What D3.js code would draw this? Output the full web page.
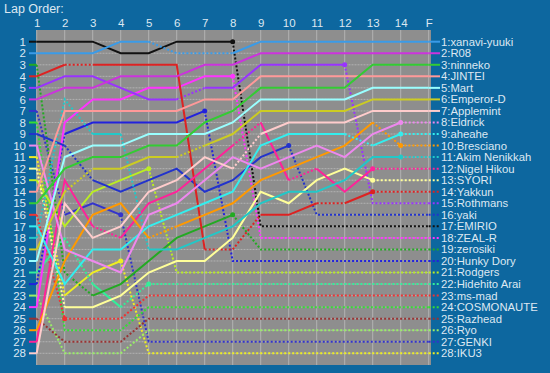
<!DOCTYPE html>
<html><head><meta charset="utf-8">
<script src="https://cdn.jsdelivr.net/npm/d3@7"></script>
<style>body{margin:0;background:#0d679f;}svg{display:block;font-family:"Liberation Sans",Arial,sans-serif;}</style>
</head><body>
<svg id="c" width="550" height="373"></svg>
<script>
const cols = ["1","2","3","4","5","6","7","8","9","10","11","12","13","14","F"];
const rowTicks = d3.range(1, 29);
const names = ["xanavi-yuuki","R08","ninneko","JINTEI","Mart","Emperor-D","Applemint","Eldrick","aheahe","Bresciano","Akim Nenikkah","Nigel Hikou","SYORI","Yakkun","Rothmans","yaki","EMIRIO","ZEAL-R","zerosiki","Hunky Dory","Rodgers","Hidehito Arai","ms-mad","COSMONAUTE","Razhead","Ryo","GENKI","IKU3"];
const colors = ["#3a9be8","#cc33dd","#33cc33","#ff9999","#99ffff","#cccc22","#ffcccc","#ee88ee","#33eeee","#ff9900","#22c8c8","#ff2299","#ffff99","#dd2222","#9933ff","#2233cc","#111111","#ff33ff","#22aa22","#2222dd","#bbee22","#33ee99","#ee3333","#33dd33","#993333","#99ee66","#3333cc","#eeee22"];
const positions = [
 [2,2,2,1,1,2,2,2,1,1,1,1,1,1,1],
 [6,5,5,4,4,4,3,3,2,2,2,2,2,2,2],
 [15,12,11,11,10,10,8,7,5,5,5,5,3,3,3],
 [14,7,7,7,7,7,6,6,4,4,4,4,4,4,4],
 [20,11,10,10,9,9,9,8,6,6,6,6,5,5,5],
 [19,14,12,12,11,11,10,9,7,7,7,7,6,6,6],
 [28,15,18,17,14,13,11,12,9,8,8,8,7,7,7],
 [10,19,20,21,16,15,13,11,12,11,10,11,9,8,8],
 [17,22,19,19,17,16,15,14,10,9,9,9,10,9,9],
 [26,20,16,15,18,17,16,15,13,12,11,10,8,10,10],
 [18,6,9,9,19,19,18,17,15,14,14,13,11,11,11],
 [27,13,17,18,15,14,12,10,8,13,12,14,12,12,12],
 [12,24,24,23,21,20,20,18,14,15,13,12,13,13,13],
 [4,3,3,3,3,3,19,19,16,16,15,15,14,14,14],
 [5,4,4,5,6,6,5,5,3,3,3,3,15,15,15],
 [9,10,13,14,13,12,14,13,11,10,16,16,16,16,16],
 [1,1,1,2,2,1,1,1,17,17,17,17,17,17,17],
 [24,8,6,6,5,5,4,4,18,18,18,18,18,18,18],
 [3,21,23,22,20,18,17,16,19,19,19,19,19,19,19],
 [22,9,8,8,8,8,7,20,20,20,20,20,20,20,20],
 [13,17,14,13,12,21,21,21,21,21,21,21,21,21,21],
 [21,18,22,24,22,22,22,22,22,22,22,22,22,22,22],
 [16,25,25,25,23,23,23,23,23,23,23,23,23,23,23],
 [8,26,26,26,24,24,24,24,24,24,24,24,24,24,24],
 [25,27,27,27,25,25,25,25,25,25,25,25,25,25,25],
 [23,28,28,28,26,26,26,26,26,26,26,26,26,26,26],
 [7,16,15,16,27,27,27,27,27,27,27,27,27,27,27],
 [11,23,21,20,28,28,28,28,28,28,28,28,28,28,28]
];
const styles = [
 "ssssdddsssssss","ssssssssssssss","ssssssssssssss","ssssssssssssss","ssssssssssssss",
 "sdsssdssssssss","sssssssdssssss","sssssssssssssd","sssssssssssdsd","ssssdsssssssdd",
 "ddsdsssssssssd","ssdssssdsdssdd","dsssssssssssdd","sdssssddssdsdd","sssssdsssssddd",
 "sdsssssssddddd","sssssssddddddd","sssssssddddddd","ddsssssddddddd","dsssssdddddddd",
 "ssssdddddddddd","sdsddddddddddd","dddddddddddddd","dddddddddddddd","dddddddddddddd",
 "dddddddddddddd","dssddddddddddd","dssddddddddddd"
];
const markers = [-1,-1,-1,-1,-1,-1,-1,13,13,13,13,12,12,12,11,9,7,7,7,6,4,4,1,-1,-1,-1,3,3];

const svg = d3.select("#c");
const W = 550, H = 373;
svg.append("rect").attr("width", W).attr("height", H).attr("fill", "#0d679f");

const x = d3.scalePoint().domain(cols).range([36.7, 428.7]);
const y = d3.scaleLinear().domain([1, 28]).range([41.7, 353.3]);
const plot = {l: 36.5, r: 431, t: 30, b: 365};
const txt = "#dde8f2";
const ff = "Liberation Sans, Arial, sans-serif";

svg.append("rect").attr("x", plot.l).attr("y", plot.t)
  .attr("width", plot.r - plot.l).attr("height", plot.b - plot.t).attr("fill", "#8e8e8e");

// grid
svg.append("g").selectAll("line").data(cols).join("line")
  .attr("x1", d => x(d)).attr("x2", d => x(d)).attr("y1", plot.t).attr("y2", plot.b)
  .attr("stroke", "#b2b2b2").attr("stroke-width", 1);
svg.append("g").selectAll("line").data(rowTicks).join("line")
  .attr("x1", plot.l).attr("x2", plot.r).attr("y1", d => y(d)).attr("y2", d => y(d))
  .attr("stroke", "#b2b2b2").attr("stroke-width", 1).attr("stroke-dasharray", "2,1");

// title
svg.append("text").attr("x", 4).attr("y", 13).attr("fill", txt)
  .attr("font-size", 12.5).attr("font-family", ff).text("Lap Order:");

// axes
const ax = svg.append("g").attr("transform", `translate(0,${27})`)
  .call(d3.axisTop(x).tickSize(0).tickPadding(0));
ax.select(".domain").remove();
ax.selectAll("text").attr("fill", txt).attr("font-size", 11.5).attr("font-family", ff);

const ay = svg.append("g").attr("transform", `translate(26,0)`)
  .call(d3.axisLeft(y).tickValues(rowTicks).tickFormat(d3.format("d")).tickSize(0).tickPadding(0));
ay.select(".domain").remove();
ay.selectAll("text").attr("fill", txt).attr("font-size", 11.5).attr("font-family", ff);

const line = d3.line().x(d => d[0]).y(d => d[1]);
const dash = "2,2";

const order = d3.range(names.length).reverse();
const lines = svg.append("g");
order.forEach(i => {
  const p = positions[i], s = styles[i], c = colors[i];
  const g = lines.append("g");
  g.append("path").attr("d", line([[29, y(p[0])], [x(cols[0]), y(p[0])]]))
    .attr("stroke", c).attr("stroke-width", 2).attr("fill", "none");
  let k = 0;
  while (k < s.length) {
    let e = k;
    while (e + 1 < s.length && s[e + 1] === s[k]) e++;
    const pts = d3.range(k, e + 2).map(j => [x(cols[j]), y(p[j])]);
    g.append("path").attr("d", line(pts)).attr("fill", "none")
      .attr("stroke", c).attr("stroke-width", 2)
      .attr("stroke-dasharray", s[k] === "d" ? dash : null);
    k = e + 1;
  }
  const last = p[p.length - 1];
  g.append("path").attr("d", line([[x("F"), y(last)], [440, y(last)]]))
    .attr("fill", "none").attr("stroke", c).attr("stroke-width", 2)
    .attr("stroke-dasharray", s[s.length - 1] === "d" ? dash : null);
  if (markers[i] >= 0) {
    const m = markers[i];
    g.append("circle").attr("cx", x(cols[m])).attr("cy", y(p[m])).attr("r", 2.5).attr("fill", c);
  }
});

// right labels
svg.append("g").selectAll("text").data(names).join("text")
  .attr("x", 441).attr("y", (d, i) => y(positions[i][positions[i].length - 1]))
  .attr("dy", "0.35em").attr("fill", txt).attr("font-size", 11.3).attr("font-family", ff)
  .text((d, i) => (positions[i][positions[i].length - 1]) + ":" + d);
</script>
</body></html>
